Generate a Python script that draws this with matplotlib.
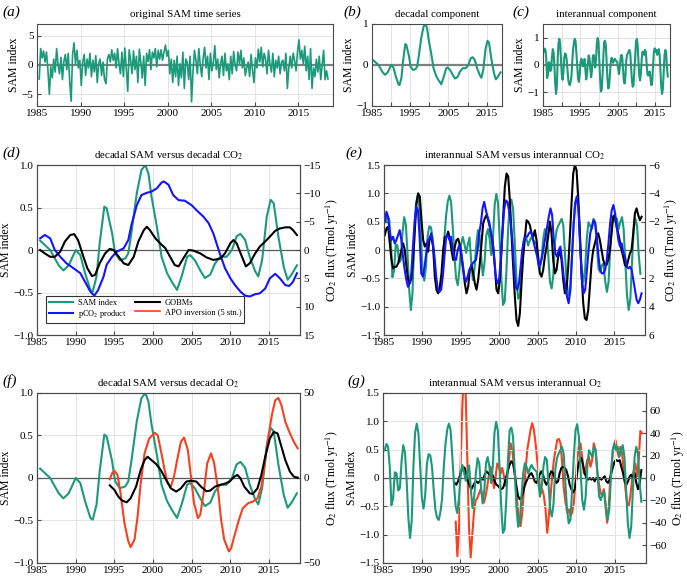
# sam_co2_o2.py
import numpy as np
import matplotlib
matplotlib.use("Agg")
import matplotlib.pyplot as plt

# ---------------------------------------------------------------- data
# (a) original SAM index, bimonthly samples from 1985.25
sam_raw_start, sam_raw_step = 1985.25, 1 / 6
sam_raw = [
    -2.4, 2.8, 1.2, 2.4, 0.5, 2.2,
    -0.8, -5.0, -0.3, -2.2, 1.0, -1.2,
    2.8, 0.0, -1.5, 1.3, -2.5, 0.6,
    1.8, -0.8, 2.0, -2.8, -6.2, 1.8,
    3.8, 0.2, 2.5, -0.5, 0.8, -3.5,
    0.5, 1.8, -1.8, 1.0, -0.5, 2.0,
    -2.0, 0.8, -1.2, 1.6, -3.0, 0.3,
    1.0, -1.8, 0.5, -2.5, -3.2, 1.0,
    1.8, 0.5, 2.6, 0.8, 2.0, -0.5,
    2.8, 0.2, -1.5, 2.2, -2.0, 2.9,
    -0.5, -4.5, 2.6, 0.8, -1.5, 2.4,
    -0.8, 1.5, -3.0, 2.7, 0.5, -2.2,
    1.5, -3.5, 2.0, 0.6, 2.6, -0.8,
    2.2, 1.2, 2.8, -0.3, 2.5, 1.0,
    2.6, 0.8, 2.2, 3.4, 1.5, 2.5,
    -1.5, 1.0, -3.0, 0.8, -2.0, 1.5,
    -3.5, 0.2, -2.2, 2.2, -4.0, 1.0,
    0.5, -2.5, 1.5, -6.3, -1.0, 2.5,
    0.8, -1.5, 2.8, 0.0, -2.0, 1.2,
    3.0, -0.5, 1.5, -2.5, 2.0, -1.0,
    0.5, 3.3, -0.8, 1.0, -2.2, 0.3,
    1.5, -1.8, 2.0, -1.0, 0.2, -2.5,
    1.5, -1.5, 2.3, 0.0, -1.0, 2.2,
    0.2, 2.5, -0.5, 1.2, -1.8, -0.5,
    0.5, -2.0, 1.8, -0.8, -3.0, 1.2,
    -0.5, 2.7, 0.5, 3.0, -0.3, 2.0,
    1.0, -1.5, 2.5, 0.2, -1.2, 2.0,
    -2.0, 0.8, -0.5, 1.5, -1.5, 0.5,
    0.8, -1.0, 2.0, -4.0, -0.5, 1.5,
    -0.5, 2.0, 0.8, -1.0, 2.2, 4.3,
    1.0, 2.5, 0.2, 3.2, -1.0, 1.5,
    -2.5, 2.8, -4.0, -0.5, -2.0, 1.0,
    -1.2, 1.5, -2.5, 0.0, 2.5, -2.5,
    -1.0, -2.4,
]

# decadal SAM component (b, d, f)
sam_dec_years = [
    1985.4, 1986.7, 1987.8, 1988.4, 1989.1, 1990.0, 1990.6, 1991.2, 1991.9, 1992.2,
    1992.7, 1993.1, 1993.7, 1994.0, 1994.7, 1995.1, 1995.7, 1996.4, 1996.8, 1997.2,
    1997.9, 1998.5, 1999.0, 1999.4, 1999.8, 2000.5, 2001.1, 2001.8, 2002.4, 2003.1,
    2003.7, 2004.4, 2004.8, 2005.4, 2006.1, 2006.7, 2007.4, 2008.0, 2008.7, 2009.5,
    2010.2, 2010.8, 2011.3, 2011.9, 2012.5, 2013.2, 2013.6, 2014.1, 2014.7, 2015.2,
    2015.6, 2016.2, 2016.9, 2017.4, 2017.9, 2018.6,
]
sam_dec = [
    0.11, 0.0, -0.18, -0.24, -0.18, 0.0, -0.06, -0.27, -0.47, -0.49,
    -0.31, 0.08, 0.51, 0.49, 0.2, -0.04, -0.12, -0.1, -0.04, 0.2,
    0.67, 0.94, 1.0, 0.9, 0.63, 0.27, -0.08, -0.27, -0.37, -0.47,
    -0.31, -0.08, -0.06, -0.12, -0.24, -0.33, -0.29, -0.16, -0.08, -0.08,
    0.0, 0.16, 0.19, 0.12, -0.08, -0.25, -0.31, -0.12, 0.39, 0.59,
    0.55, 0.16, -0.2, -0.35, -0.29, -0.18,
]

# interannual SAM component (c, e, g), evenly spaced
sam_ia_span = (1985.22, 2018.4)
sam_ia = [
    0.49, 0.6, 0.55, 0.2, -0.48, -0.36, 0.1, 0.08, -0.22, -0.18,
    0.3, 0.58, 0.45, -0.05, -0.7, -1.06, -0.75, 0.2, 0.8, 0.96,
    0.78, 0.2, -0.35, -0.54, -0.3, 0.25, 0.42, 0.4, 0.2, -0.2,
    -0.55, -0.7, -0.74, -0.6, -0.36, 0.2, 0.6, 0.85, 0.96, 0.85,
    0.4, -0.1, -0.5, -0.62, -0.35, 0.1, 0.23, 0.1, -0.05, 0.1,
    0.22, -0.2, -0.53, -0.33, 0.08, 0.35, 0.26, -0.15, -0.45, -0.21,
    0.26, 0.37, 0.2, -0.09, 0.2, 0.79, 0.99, 0.84, 0.2, -0.5,
    -0.97, -0.91, -0.39, 0.32, 0.84, 0.89, 0.73, 0.14, -0.5, -0.86,
    -0.8, -0.33, 0.08, 0.26, 0.2, 0.08, 0.17, 0.23, 0.17, 0.14,
    0.11, -0.09, -0.33, -0.15, 0.2, 0.37, 0.32, -0.09, -0.56, -0.68,
    -0.45, 0.14, 0.35, 0.43, 0.49, 0.55, 0.43, -0.09, -0.56, -0.8,
    -0.74, -0.21, 0.37, 0.84, 0.95, 0.73, 0.14, -0.39, -0.56, -0.33,
    0.2, 0.49, 0.43, 0.37, 0.55, 0.49, 0.08, -0.33, -0.39, -0.27,
    -0.24, -0.56, -0.74, -0.56, 0.02, 0.49, 0.61, 0.49, 0.55, 0.37,
    0.49, 0.58, 0.37, -0.21, -0.8, -1.06, -0.86, -0.21, 0.37, 0.55,
    0.43, -0.09, -0.42,
]

# (d) decadal CO2 flux, Tmol/yr
pco2_dec_years = [
    1985.4, 1986.0, 1986.7, 1987.3, 1988.0, 1988.8, 1989.7, 1990.6, 1991.2, 1991.9,
    1992.4, 1992.9, 1993.6, 1994.0, 1994.7, 1995.3, 1996.2, 1996.8, 1997.2, 1997.9,
    1998.5, 1999.2, 1999.8, 2000.5, 2001.1, 2001.4, 2002.0, 2002.6, 2003.3, 2004.1,
    2005.0, 2005.6, 2006.5, 2007.2, 2007.8, 2008.2, 2008.7, 2009.3, 2010.0, 2010.6,
    2011.3, 2011.9, 2012.5, 2013.2, 2013.8, 2014.5, 2015.1, 2015.8, 2016.4, 2017.1,
    2017.6, 2018.1, 2018.6,
]
pco2_dec = [
    -2.06, -2.65, -2.06, 0.0, 1.18, 2.35, 3.2, 4.1, 5.6, 7.35,
    8.06, 7.06, 4.7, 2.6, 1.2, 0.3, -0.3, -1.76, -4.4, -7.9,
    -9.7, -10.1, -10.3, -10.9, -11.9, -12.1, -11.5, -9.7, -8.8, -8.7,
    -7.9, -7.05, -5.9, -4.7, -2.9, -1.2, 0.9, 3.2, 5.0, 6.2,
    7.35, 8.06, 8.2, 7.8, 7.65, 6.8, 5.0, 4.2, 5.0, 6.2,
    6.35, 5.6, 4.1,
]
gobm_co2_dec_years = [
    1985.4, 1986.0, 1986.7, 1987.3, 1988.0, 1988.6, 1989.3, 1989.8, 1990.3, 1991.0,
    1991.5, 1992.1, 1992.5, 1993.1, 1993.8, 1994.4, 1994.9, 1995.5, 1996.2, 1996.8,
    1997.5, 1998.1, 1998.8, 1999.2, 1999.6, 2000.3, 2000.9, 2001.6, 2002.2, 2002.8,
    2003.3, 2003.9, 2004.6, 2005.2, 2006.1, 2006.9, 2007.8, 2008.7, 2009.3, 2010.0,
    2010.4, 2010.8, 2011.5, 2012.0, 2012.5, 2013.2, 2013.8, 2014.5, 2015.1, 2015.8,
    2016.4, 2017.1, 2017.7, 2018.1, 2018.6,
]
gobm_co2_dec = [
    0.0, 0.6, 1.2, 1.2, 0.3, -1.5, -2.65, -2.8, -1.76, 1.2,
    3.2, 4.6, 4.4, 2.35, 0.6, -0.2, 0.0, 1.06, 2.35, 2.65,
    1.2, -1.5, -3.5, -4.1, -3.5, -2.06, -1.2, -0.3, 1.2, 2.65,
    2.9, 1.5, 0.0, 0.1, 0.6, 1.3, 1.76, 1.5, 0.6, -1.2,
    -1.76, -1.2, 1.2, 2.9, 2.35, 0.6, -0.6, -1.5, -2.35, -3.4,
    -3.8, -4.0, -4.0, -3.5, -2.65,
]

# (e) interannual CO2 flux, Tmol/yr, evenly spaced
gobm_co2_ia_span = (1985.1, 2018.55)
gobm_co2_ia = [
    -1.06, -1.53, -1.65, -0.47, 0.7, 1.3, 1.18, 1.18, 0.94, 0.47,
    0, -0.47, 0, 1.18, 2.1, 2.35, 2.0, 0.7, -1.4, -3.3,
    -4.0, -3.76, -2.1, -0.7, -0.24, -0.47, 0.12, -0.94, -0.8, -0.24,
    1.88, 2.8, 3.06, 2.6, 1.65, 0, -0.94, -0.9, -1.3, -0.8,
    0, 0.7, -0.24, -0.7, -0.8, -0.35, 0.47, 1.4, 2.35, 3.06,
    2.6, 1.4, 1.06, 1.65, 2.35, 2.8, 2.1, 0.94, -0.47, -1.88,
    -2.24, -2.47, -2.1, -1.65, -0.94, -0.24, 1.18, 2.8, 3.06, 2.1,
    0, -2.35, -4.47, -5.4, -5.2, -3.5, -1.18, 1.18, 3.3, 4.94,
    5.36, 4.47, 2.35, 0.47, -0.8, -2.1, -2.0, -1.76, -1.18, -0.94,
    -1.4, -0.7, 0.7, 1.65, 1.88, 1.4, 0.47, -0.24, -0.94, -2.0,
    -1.18, 0.7, 1.65, 1.4, 0.47, 0, 0.7, 2.1, 3.06, 2.8,
    1.18, -0.94, -3.3, -5.4, -6.0, -5.65, -3.76, -1.18, 1.65, 3.76,
    4.82, 4.94, 4.24, 2.6, 0.94, 0, -0.47, -0.94, -1.18, -0.7,
    0, 0.7, 1.06, 1.06, 0.7, 0, -1.18, -2.35, -2.47, -1.65,
    -1.18, -0.6, 0, 0.47, 1.06, 1.18, 0.7, 0.24, 0, -1.18,
    -2.6, -2.94, -2.47, -2.1, -2.35,
]
pco2_ia_span = (1985.1, 2018.55)
pco2_ia = [
    -2.0, -2.7, -2.35, -1.18, -0.7, -0.94, -0.47, -0.7, -1.06, -1.4,
    -0.7, 0.47, 1.4, 2.1, 2.6, 2.35, 1.65, -0.24, -2.0, -3.06,
    -2.82, -0.94, 1.65, 1.88, 1.18, 0.24, -0.7, -0.8, -1.18, -0.47,
    0.47, 1.88, 2.8, 2.94, 2.8, 1.88, 0.47, -0.94, -1.06, -0.7,
    -0.94, 0, 0.6, 0.7, 0, -0.35, 0, 0.94, 1.88, 2.24,
    1.88, 1.4, 1.18, 0.94, 0.82, 0.7, 0, -1.18, -1.88, -2.94,
    -3.4, -2.82, -2.35, -2.0, -1.18, -0.7, 0.47, 1.88, 2.35, 2.1,
    0.7, -1.18, -2.82, -3.5, -3.4, -2.82, -1.88, -0.7, 1.18, 2.6,
    2.8, 2.35, 1.18, 0, -0.7, -0.94, -0.94, -1.18, -1.3, -1.06,
    -0.47, 0, 0.47, 1.18, 0.94, 0.47, -0.24, -0.94, -1.65, -2.35,
    -2.94, -2.47, -0.7, 0.24, 0.47, 0, -0.24, 0.7, 1.88, 2.6,
    3.3, 3.76, 2.8, 0.47, -1.88, -3.3, -3.76, -2.82, 0, 2.1,
    3.06, 2.8, 1.4, 0, -1.18, -1.65, -2.1, -1.88, -0.94, 0.47,
    1.4, 1.65, 1.65, 1.4, 0.7, -0.47, -1.88, -2.82, -3.18, -2.6,
    -1.65, -0.7, -0.24, -0.47, 0.24, 0.47, 1.18, 1.3, 1.18, 1.4,
    2.1, 2.8, 3.5, 3.76, 3.5, 3.06,
]

# (f) decadal O2 flux, Tmol/yr
apo_dec_years = [
    1994.4, 1994.7, 1995.0, 1995.4, 1995.8, 1996.3, 1996.8, 1997.1, 1997.6, 1998.0,
    1998.4, 1998.9, 1999.5, 2000.2, 2000.6, 2001.0, 2001.5, 2001.9, 2002.3, 2002.7,
    2003.2, 2003.6, 2004.0, 2004.5, 2004.9, 2005.3, 2005.8, 2006.1, 2006.6, 2007.0,
    2007.5, 2007.9, 2008.4, 2008.8, 2009.2, 2009.8, 2010.1, 2010.5, 2011.1, 2011.6,
    2012.3, 2012.9, 2013.5, 2014.0, 2014.4, 2014.9, 2015.4, 2015.8, 2016.2, 2016.6,
    2017.1, 2017.7, 2018.2, 2018.7,
]
apo_dec = [
    -0.8, 2.7, 4.3, 1.8, -9, -26.6, -37.3, -40.6, -36.3, -22.7,
    -3.1, 14.5, 23.2, 26.6, 25.2, 16.4, 4.7, -3.1, -5.1, 0.8,
    12.5, 21.3, 23.8, 16.4, 0.8, -14.8, -23.6, -21.7, -7, 8.6,
    14.5, 8.6, -7, -24.6, -36.3, -43.2, -41.2, -34.4, -24.6, -17.8,
    -14.8, -13.9, -11.9, -5.1, 6.6, 24.2, 37.9, 45.7, 47.1, 42.8,
    33.0, 26.2, 21.3, 17.4,
]
gobm_o2_dec_years = [
    1994.4, 1995.0, 1995.5, 1996.0, 1996.6, 1997.1, 1997.8, 1998.4, 1998.9, 1999.3,
    1999.8, 2000.4, 2001.0, 2001.7, 2002.3, 2003.0, 2003.6, 2004.3, 2004.9, 2005.6,
    2006.2, 2006.9, 2007.4, 2008.0, 2008.6, 2009.2, 2009.9, 2010.5, 2010.9, 2011.3,
    2011.8, 2012.5, 2012.9, 2013.5, 2014.0, 2014.5, 2015.1, 2015.6, 2016.1, 2016.6,
    2017.1, 2017.7, 2018.2, 2018.7,
]
gobm_o2_dec = [
    -4.3, -7, -10.9, -13.3, -14.3, -11.9, -5.1, 4.7, 10.5, 12.5,
    10.5, 8.2, 4.7, -1.2, -6.1, -8, -6.1, -2.1, -1.6, -2.1,
    -5.1, -7.8, -7.4, -5.1, -4.1, -3.5, -2.1, 0.8, 1.8, -0.2,
    -5.1, -9, -9.4, -6.1, 1.8, 12.5, 23.2, 27.1, 26.2, 18.4,
    10.5, 3.7, 0.8, 0.2,
]

# (g) interannual O2 flux, Tmol/yr, evenly spaced
apo_ia_span = (1994.4, 2018.49)
apo_ia = [
    -39, -70, -45, 15, 65, 95, 75, 15, -45, -71,
    -50, -30, -20, -18, -14, -10, -16, -22, -16, -7,
    3, 10, 3, -9,
    1.5, 13, 10, 4, 9, 1.5, -7, 1.5, 16, 31,
    25, 10, -4.4, -22, -37, -43, -31, -10, 7, 25,
    34, 43, 49, 43, 31, 16, 1.5, -13, -10, -16,
    -28, -49, -34, -16, 1.5, 16, 25, 34, 35, 31,
    13, -10, -22, -31, -28, -34, -31, -22, -4, 16,
    28, 31, 19, 4, 7, 16, 19, 10, 16, 31,
    25, 7, -4, -13, -16, -10, -22, -40, -25, 1.5,
    16, 28, 34, 25, 19, 28, 22, 7, -10, -22,
    -25, -16, -1.5, 7, 13, 1.5, 16, 42, 40,
]
gobm_o2_ia_span = (1994.27, 2018.4)
gobm_o2_ia = [
    -4.4, -6, -3, 1.5, 6, 10, 9, 1.5, -3, -7,
    -10, -7, -4.4, -3, -4.4, -3, 0, -1.5, 3, 6,
    4.4, 3, 4.4, 1.5, -3, -6, -7, -9, -10, -9,
    -4.4, 1.5, 7, 12, 15, 13, 4.4, -7, -16, -19,
    -18, -13, -7, -3, 0, 3, 4.4, 1.5, -3, -4.4,
    -1.5, 3, 6, 3, -3, -6, -3, 3, 6, 4.4,
    0, -4.4, -3, 4.4, 9, 10, 9, 7, 1.5, -6,
    -10, -13, -10, -1.5, 10, 16, 18, 12, 4.4, 0,
    -1.5, 0, -1.5, 0, -3, 0, -1.5, 0, -1.5, 0,
    1.5, -3, -4.4, -1.5, 4.4, 10, 15, 16, 15, 16,
    10, 4.4, -3, -6, -3, 1.5, 3, 0, 4.4, -4.4,
    -10, -4.4, 7,
]

year_ticks = [1985, 1990, 1995, 2000, 2005, 2010, 2015]
short_year_labels = ["1985", "", "1995", "", "2005", "", "2015"]

# ---------------------------------------------------------------- style
TEAL = "#1b9a7a"
BLUE = "#1414ff"
RED = "#f7401f"
BLACK = "#000000"
SPINE = "#4a4a4a"
GRID = "#e3e3e3"
XLIM = (1985, 2019)
TICK_FS = 8
LABEL_FS = 8.5

plt.rcParams["font.family"] = ["Liberation Serif", "DejaVu Serif"]
plt.rcParams["mathtext.fontset"] = "stix"
plt.rcParams["axes.unicode_minus"] = True


def even_years(span, values):
    """Evenly spaced sample times between the first and last read year."""
    return np.linspace(span[0], span[1], len(values))


def fmt(v, decimals):
    if v == 0:
        return "0"
    s = f"{abs(v):.{decimals}f}"
    return ("\u2212" + s) if v < 0 else s


def style_spines(ax):
    for s in ax.spines.values():
        s.set_color(SPINE)
        s.set_linewidth(0.8)


def base_axes(fig, rect, ylim, yticks, decimals, xlabels=None,
              zero_color="#595959", zero_lw=0.9):
    ax = fig.add_axes(rect)
    ax.set_xlim(*XLIM)
    ax.set_ylim(*ylim)
    ax.set_xticks(year_ticks)
    ax.set_xticklabels(xlabels if xlabels else [str(y) for y in year_ticks])
    ax.set_yticks(yticks)
    ax.set_yticklabels([fmt(v, decimals) for v in yticks])
    ax.grid(True, color=GRID, lw=0.7)
    ax.set_axisbelow(True)
    ax.axhline(0, color=zero_color, lw=zero_lw, zorder=1.5)
    ax.tick_params(direction="in", length=3, labelsize=TICK_FS, color=SPINE,
                   pad=2.5, top=False, right=False)
    style_spines(ax)
    ax.set_ylabel("SAM index", fontsize=LABEL_FS, labelpad=1)
    return ax


def right_axis(ax, ylim, yticks, label):
    ax2 = ax.twinx()
    ax2.set_xlim(*XLIM)
    ax2.set_ylim(*ylim)
    ax2.set_yticks(yticks)
    ax2.set_yticklabels([fmt(v, 0) for v in yticks])
    ax2.tick_params(direction="in", length=3, labelsize=TICK_FS, color=SPINE,
                    pad=2.5)
    style_spines(ax2)
    ax2.set_ylabel(label, fontsize=LABEL_FS, labelpad=2)
    return ax2


def panel_label(fig, x, y, letter):
    fig.text(x / 687, 1 - y / 581, f"({letter})", fontsize=11,
             style="italic", va="center", ha="left")


def title(ax, text):
    ax.set_title(text, fontsize=7.8, pad=5)


fig = plt.figure(figsize=(6.87, 5.81), dpi=100)

# (a) original series
ax_a = base_axes(fig, [0.0539, 0.8176, 0.4309, 0.1411], (-7, 7), [-5, 0, 5], 0,
                 zero_color="#808080", zero_lw=1.6)
t_raw = sam_raw_start + sam_raw_step * np.arange(len(sam_raw))
ax_a.plot(t_raw, sam_raw, color=TEAL, lw=1.2)
title(ax_a, "original SAM time series")
panel_label(fig, 2, 12, "a")

# (b) decadal component
ax_b = base_axes(fig, [0.5415, 0.8176, 0.1892, 0.1411], (-1, 1), [-1, 0, 1], 0,
                 xlabels=short_year_labels, zero_color="#808080", zero_lw=1.6)
ax_b.plot(sam_dec_years, sam_dec, color=TEAL, lw=1.5)
title(ax_b, "decadal component")
panel_label(fig, 343, 12, "b")

# (c) interannual component
ax_c = base_axes(fig, [0.7904, 0.8176, 0.1849, 0.1411], (-1.5, 1.5), [-1, 0, 1], 0,
                 xlabels=short_year_labels, zero_color="#808080", zero_lw=1.6)
ax_c.plot(even_years(sam_ia_span, sam_ia), sam_ia, color=TEAL, lw=1.5)
title(ax_c, "interannual component")
panel_label(fig, 512, 12, "c")

# (d) decadal SAM vs decadal CO2
ax_d = base_axes(fig, [0.0539, 0.4234, 0.3828, 0.2926], (-1, 1),
                 [-1, -0.5, 0, 0.5, 1], 1)
h_sam, = ax_d.plot(sam_dec_years, sam_dec, color=TEAL, lw=1.5, label="SAM index")
ax_d2 = right_axis(ax_d, (15, -15), [-15, -10, -5, 0, 5, 10, 15],
                   r"CO$_2$ flux (Tmol yr$^{-1}$)")
h_pco2, = ax_d2.plot(pco2_dec_years, pco2_dec, color=BLUE, lw=1.5,
                     label=r"pCO$_2$ product")
h_gobm, = ax_d2.plot(gobm_co2_dec_years, gobm_co2_dec, color=BLACK, lw=1.5,
                     label="GOBMs")
h_apo, = ax_d2.plot([], [], color=RED, lw=1.2, label="APO inversion (5 stn.)")
title(ax_d, r"decadal SAM versus decadal CO$_2$")
panel_label(fig, 2, 153, "d")
leg = ax_d2.legend(handles=[h_sam, h_pco2, h_gobm, h_apo], ncol=2,
                   loc="lower left", bbox_to_anchor=(0.018, 0.045),
                   fontsize=6, handlelength=2.9, columnspacing=1.0,
                   labelspacing=0.2, borderpad=0.35, handletextpad=0.6,
                   fancybox=False, framealpha=1)
leg.get_frame().set_edgecolor("#333333")
leg.get_frame().set_linewidth(0.8)

# (e) interannual SAM vs interannual CO2
ax_e = base_axes(fig, [0.5590, 0.4234, 0.3799, 0.2926], (-1.5, 1.5),
                 [-1.5, -1, -0.5, 0, 0.5, 1, 1.5], 1)
ax_e.plot(even_years(sam_ia_span, sam_ia), sam_ia, color=TEAL, lw=1.5)
ax_e2 = right_axis(ax_e, (6, -6), [-6, -4, -2, 0, 2, 4, 6],
                   r"CO$_2$ flux (Tmol yr$^{-1}$)")
ax_e2.plot(even_years(gobm_co2_ia_span, gobm_co2_ia), gobm_co2_ia,
           color=BLACK, lw=1.5)
ax_e2.plot(even_years(pco2_ia_span, pco2_ia), pco2_ia, color=BLUE, lw=1.5)
title(ax_e, r"interannual SAM versus interannual CO$_2$")
panel_label(fig, 345, 153, "e")

# (f) decadal SAM vs decadal O2
ax_f = base_axes(fig, [0.0539, 0.0310, 0.3828, 0.2926], (-1, 1),
                 [-1, -0.5, 0, 0.5, 1], 1)
ax_f.plot(sam_dec_years, sam_dec, color=TEAL, lw=1.5)
ax_f2 = right_axis(ax_f, (-50, 50), [-50, 0, 50],
                   r"O$_2$ flux (Tmol yr$^{-1}$)")
ax_f2.plot(apo_dec_years, apo_dec, color=RED, lw=1.5)
ax_f2.plot(gobm_o2_dec_years, gobm_o2_dec, color=BLACK, lw=1.5)
title(ax_f, r"decadal SAM versus decadal O$_2$")
panel_label(fig, 2, 381, "f")

# (g) interannual SAM vs interannual O2
ax_g = base_axes(fig, [0.5575, 0.0310, 0.3828, 0.2926], (-1.5, 1.5),
                 [-1.5, -1, -0.5, 0, 0.5, 1, 1.5], 1)
ax_g2 = right_axis(ax_g, (-76, 76), [-60, -40, -20, 0, 20, 40, 60],
                   r"O$_2$ flux (Tmol yr$^{-1}$)")
ax_g2.plot(even_years(apo_ia_span, apo_ia), apo_ia, color=RED, lw=1.5)
ax_g2.plot(even_years(gobm_o2_ia_span, gobm_o2_ia), gobm_o2_ia,
           color=BLACK, lw=1.5)
ax_g.plot(even_years(sam_ia_span, sam_ia), sam_ia, color=TEAL, lw=1.5)
ax_g.set_zorder(ax_g2.get_zorder() + 1)
ax_g.patch.set_visible(False)
title(ax_g, r"interannual SAM versus interannual O$_2$")
panel_label(fig, 347, 381, "g")

fig.savefig("out.png", dpi=100)
